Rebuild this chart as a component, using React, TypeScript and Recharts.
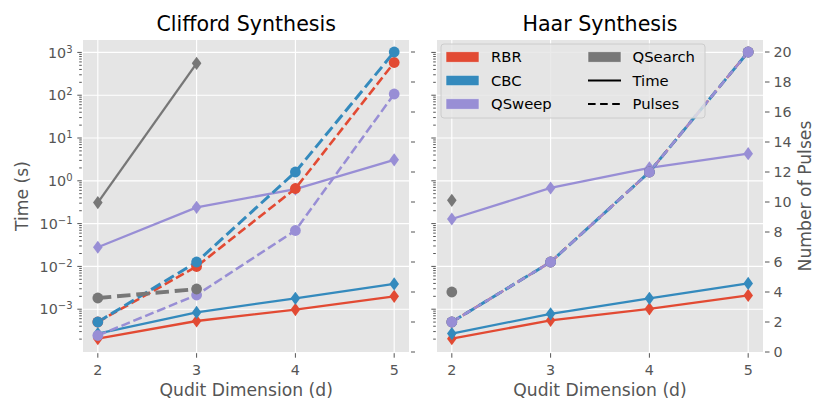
import { CartesianGrid, Line, LineChart, XAxis, YAxis } from "recharts";

// qudit dimension d
const dims = [2, 3, 4, 5];

// Clifford synthesis — time in seconds (log axis), pulses on the twin axis
const cliffordTimeRBR = [2.05e-4, 5.3e-4, 9.8e-4, 2.0e-3];
const cliffordTimeCBC = [2.7e-4, 8.4e-4, 1.8e-3, 3.9e-3];
const cliffordTimeQSweep = [0.028, 0.24, 0.64, 3.1];
const cliffordTimeQSearch = [0.31, 555, null, null];
const cliffordPulsesRBR = [2.0, 5.7, 10.9, 19.3];
const cliffordPulsesCBC = [2.0, 6.0, 12.0, 20.0];
const cliffordPulsesQSweep = [1.1, 3.8, 8.1, 17.2];
const cliffordPulsesQSearch = [3.6, 4.2, null, null];

// Haar synthesis
const haarTimeRBR = [2.05e-4, 5.5e-4, 1.02e-3, 2.1e-3];
const haarTimeCBC = [2.7e-4, 7.8e-4, 1.8e-3, 4.0e-3];
const haarTimeQSweep = [0.128, 0.68, 2.0, 4.3];
const haarTimeQSearch = [0.35, null, null, null];
const haarPulsesRBR = [2, 6, 12, 20];
const haarPulsesCBC = [2, 6, 12, 20];
const haarPulsesQSweep = [2, 6, 12, 20];
const haarPulsesQSearch = [4, null, null, null];

// ticks
const dimTicks = [2, 3, 4, 5];
const timeMajorTicks = [1e-3, 1e-2, 1e-1, 1, 10, 100, 1000];
const timeDecades = [1e-4, 1e-3, 1e-2, 1e-1, 1, 10, 100];
const minorSteps = [2, 3, 4, 5, 6, 7, 8, 9];
const pulseTicks = [0, 2, 4, 6, 8, 10, 12, 14, 16, 18, 20];

const timeTicks = [...timeMajorTicks, ...timeDecades.flatMap((dec) => minorSteps.map((m) => m * dec))].sort((a, b) => a - b);

const methods = [
  { key: "RBR", color: "#E24A33", dashWidth: 2.6, dash: "9 3.8" },
  { key: "CBC", color: "#348ABD", dashWidth: 3.0, dash: "11 4.6" },
  { key: "QSweep", color: "#988ED5", dashWidth: 2.5, dash: "9 3.8" },
  { key: "QSearch", color: "#777777", dashWidth: 3.8, dash: "13.5 5.8" },
];

const FONT = "DejaVu Sans";
const TICK_COLOR = "#555555";

type Num = number | null;

function buildRows(time: Num[][], pulses: Num[][]) {
  return dims.map((d, i) => {
    const row: Record<string, Num> = { d };
    methods.forEach((m, j) => {
      row["t" + m.key] = time[j][i];
      row["p" + m.key] = pulses[j][i];
    });
    return row;
  });
}

const cliffordRows = buildRows(
  [cliffordTimeRBR, cliffordTimeCBC, cliffordTimeQSweep, cliffordTimeQSearch],
  [cliffordPulsesRBR, cliffordPulsesCBC, cliffordPulsesQSweep, cliffordPulsesQSearch]
);
const haarRows = buildRows(
  [haarTimeRBR, haarTimeCBC, haarTimeQSweep, haarTimeQSearch],
  [haarPulsesRBR, haarPulsesCBC, haarPulsesQSweep, haarPulsesQSearch]
);

const diamondDot = (color: string) => (props: any) => {
  const { cx, cy, index, value } = props;
  if (cx == null || cy == null || value == null || Number.isNaN(cy)) return <g key={index} />;
  return <polygon key={index} points={`${cx},${cy - 6.6} ${cx + 4.8},${cy} ${cx},${cy + 6.6} ${cx - 4.8},${cy}`} fill={color} />;
};

const circleDot = (color: string) => (props: any) => {
  const { cx, cy, index, value } = props;
  if (cx == null || cy == null || value == null || Number.isNaN(cy)) return <g key={index} />;
  return <circle key={index} cx={cx} cy={cy} r={5.4} fill={color} />;
};

const LogTick = (showLabel: boolean) => (props: any) => {
  const { x, y, payload } = props;
  const v = payload.value as number;
  const lg = Math.log10(v);
  const exp = Math.round(lg);
  const major = Math.abs(lg - exp) < 1e-6;
  const len = major ? 4.5 : 2.6;
  return (
    <g>
      <line x1={x - 1.2 - len} x2={x - 1.2} y1={y} y2={y} stroke={TICK_COLOR} strokeWidth={1} />
      {major && showLabel && (
        <text x={x - 10.5} y={y + 5.1} textAnchor="end" fill={TICK_COLOR} fontSize={14.3} fontFamily={FONT}>
          <tspan>10</tspan>
          <tspan dy={-5} fontSize={10}>{exp < 0 ? "\u2212" + -exp : String(exp)}</tspan>
        </text>
      )}
    </g>
  );
};

const PulseTick = (showLabel: boolean) => (props: any) => {
  const { x, y, payload } = props;
  return (
    <g>
      <line x1={x + 2} x2={x + 6.5} y1={y} y2={y} stroke={TICK_COLOR} strokeWidth={1} />
      {showLabel && (
        <text x={x + 10.5} y={y + 5.1} textAnchor="start" fill={TICK_COLOR} fontSize={14.3} fontFamily={FONT}>
          {payload.value}
        </text>
      )}
    </g>
  );
};

const DimTick = (props: any) => {
  const { x, y, payload } = props;
  return (
    <g>
      <line x1={x} x2={x} y1={y + 1.2} y2={y + 5.7} stroke={TICK_COLOR} strokeWidth={1} />
      <text x={x} y={y + 23.2} textAnchor="middle" fill={TICK_COLOR} fontSize={14.3} fontFamily={FONT}>
        {payload.value}
      </text>
    </g>
  );
};

function Panel({
  rows,
  left,
  timeWidth,
  pulseWidth,
  timeLabels,
  pulseLabels,
}: {
  rows: Record<string, Num>[];
  left: number;
  timeWidth: number;
  pulseWidth: number;
  timeLabels: boolean;
  pulseLabels: boolean;
}) {
  return (
    <div style={{ position: "absolute", left, top: 0 }}>
      <LineChart width={415} height={415} data={rows} margin={{ top: 40, right: 0, bottom: 0, left: 0 }}>
        <CartesianGrid
          yAxisId="time"
          fill="#E5E5E5"
          stroke="#FFFFFF"
          strokeWidth={1.15}
          horizontalValues={timeMajorTicks}
          verticalValues={dimTicks}
        />
        <XAxis
          dataKey="d"
          type="number"
          domain={[1.85, 5.15]}
          ticks={dimTicks}
          interval={0}
          allowDataOverflow
          height={63}
          tickSize={0}
          tickMargin={0}
          axisLine={false}
          tickLine={false}
          tick={DimTick}
        />
        <YAxis
          yAxisId="time"
          orientation="left"
          scale="log"
          type="number"
          domain={[1.0e-4, 1950]}
          allowDataOverflow
          ticks={timeTicks}
          interval={0}
          width={timeWidth}
          tickSize={0}
          tickMargin={0}
          axisLine={false}
          tickLine={false}
          tick={LogTick(timeLabels)}
        />
        <YAxis
          yAxisId="pulses"
          orientation="right"
          type="number"
          domain={[0, 20.8]}
          allowDataOverflow
          ticks={pulseTicks}
          interval={0}
          width={pulseWidth}
          tickSize={0}
          tickMargin={0}
          axisLine={false}
          tickLine={false}
          tick={PulseTick(pulseLabels)}
        />
        {methods.map((m) => (
          <Line
            key={"t" + m.key}
            yAxisId="time"
            dataKey={"t" + m.key}
            type="linear"
            stroke={m.color}
            strokeWidth={2.3}
            dot={diamondDot(m.color)}
            activeDot={false}
            isAnimationActive={false}
          />
        ))}
        {methods.map((m) => (
          <Line
            key={"p" + m.key}
            yAxisId="pulses"
            dataKey={"p" + m.key}
            type="linear"
            stroke={m.color}
            strokeWidth={m.dashWidth}
            strokeDasharray={m.dash}
            dot={circleDot(m.color)}
            activeDot={false}
            isAnimationActive={false}
          />
        ))}
      </LineChart>
    </div>
  );
}

function Overlay() {
  const rowsY = [57, 80.5, 104];
  const col1 = methods.slice(0, 3);
  return (
    <svg
      width={830}
      height={415}
      style={{ position: "absolute", left: 0, top: 0, pointerEvents: "none" }}
      fontFamily={FONT}
    >
      <text x={246.2} y={30.5} textAnchor="middle" fontSize={20.6} fill="#000">
        Clifford Synthesis
      </text>
      <text x={600} y={30.5} textAnchor="middle" fontSize={20.6} fill="#000">
        Haar Synthesis
      </text>
      <text x={246.2} y={395.5} textAnchor="middle" fontSize={17.2} fill={TICK_COLOR}>
        Qudit Dimension (d)
      </text>
      <text x={600} y={395.5} textAnchor="middle" fontSize={17.2} fill={TICK_COLOR}>
        Qudit Dimension (d)
      </text>
      <text x={27.8} y={196} textAnchor="middle" fontSize={17.2} fill={TICK_COLOR} transform="rotate(-90 27.8 196)">
        Time (s)
      </text>
      <text x={810.5} y={196} textAnchor="middle" fontSize={17.2} fill={TICK_COLOR} transform="rotate(-90 810.5 196)">
        Number of Pulses
      </text>

      <rect x={441} y={44} width={264} height={74} rx={3} fill="#E5E5E5" fillOpacity={0.8} stroke="#CCCCCC" strokeWidth={1} />
      {col1.map((m, i) => (
        <g key={m.key}>
          <rect x={446} y={rowsY[i] - 5.2} width={33} height={10.4} fill={m.color} stroke="#EEEEEE" strokeWidth={0.6} />
          <text x={491} y={rowsY[i] + 5.2} fontSize={14.8} fill="#000">
            {m.key}
          </text>
        </g>
      ))}
      <rect x={588} y={rowsY[0] - 5.2} width={33} height={10.4} fill={methods[3].color} stroke="#EEEEEE" strokeWidth={0.6} />
      <text x={632.5} y={rowsY[0] + 5.2} fontSize={14.8} fill="#000">
        {methods[3].key}
      </text>
      <line x1={588} x2={621} y1={rowsY[1]} y2={rowsY[1]} stroke="#000" strokeWidth={2.1} />
      <text x={632.5} y={rowsY[1] + 5.2} fontSize={14.8} fill="#000">
        Time
      </text>
      <line x1={588} x2={621} y1={rowsY[2]} y2={rowsY[2]} stroke="#000" strokeWidth={2.1} strokeDasharray="7.6 4.5" />
      <text x={632.5} y={rowsY[2] + 5.2} fontSize={14.8} fill="#000">
        Pulses
      </text>
    </svg>
  );
}

export default function App() {
  return (
    <div style={{ position: "absolute", left: 0, top: 0, width: 830, height: 415, background: "#fff" }}>
      <Panel rows={cliffordRows} left={0} timeWidth={83} pulseWidth={6} timeLabels pulseLabels={false} />
      <Panel rows={haarRows} left={415} timeWidth={22} pulseWidth={67} timeLabels={false} pulseLabels />
      <Overlay />
    </div>
  );
}
